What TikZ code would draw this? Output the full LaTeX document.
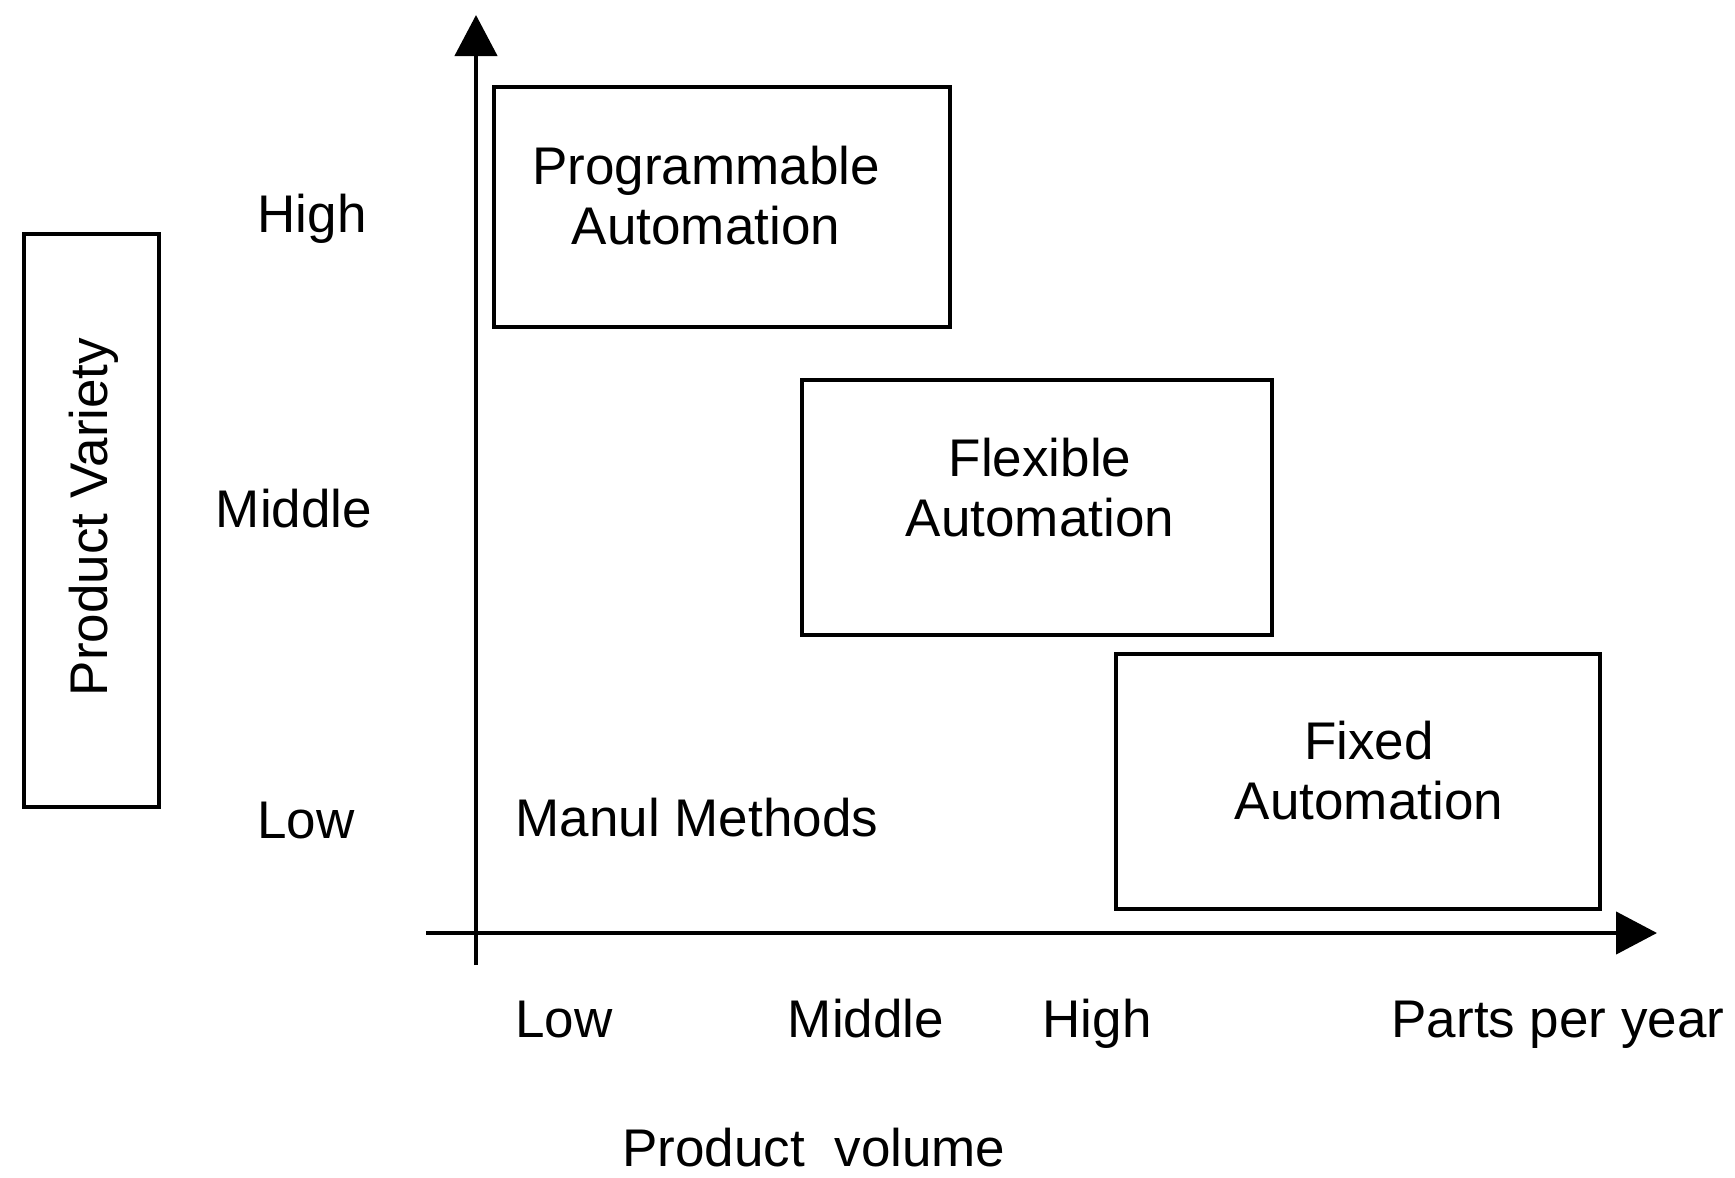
\documentclass[tikz,border=0pt]{standalone}
\usepackage{fontspec}
\setmainfont{Liberation Sans}
\usetikzlibrary{arrows.meta}
\begin{document}
\begin{tikzpicture}[x=1pt, y=-1pt, >={Triangle[length=41pt,width=42pt]},
		every node/.style={font=\fontsize{53}{60}\selectfont},
		zone/.style n args={2}{draw, line width=4pt, minimum width=#1, minimum height=#2, inner sep=0pt},
		axis/.style={line width=4.5pt}]
	\useasboundingbox (0,0) rectangle (1735,1178);
	% axes
	\coordinate (ybot) at (476,965);
	\coordinate (ytop) at (476,15);
	\coordinate (xleft) at (426,933);
	\coordinate (xright) at (1657,933);
	\draw[axis, ->] (ybot) -- (ytop);
	\draw[axis, ->] (xleft) -- (xright);
	% regions
	\node[zone={456}{240}] (prog) at (722,207) {};
	\node[zone={470}{255}] (flex) at (1037,507) {};
	\node[zone={484}{255}] (fixed) at (1358,781) {};
	\node[align=center] (progtext) at (706,196) {Programmable\\Automation};
	\node[align=center] (flextext) at (1040,488) {Flexible\\Automation};
	\node[align=center] (fixedtext) at (1369,771) {Fixed\\Automation};
	\node (manual) at (697,818) {Manul Methods};
	% variety label
	\node[zone={135}{573}] (variety) at (91,520) {};
	\node[rotate=90] (varietytext) at (94,517) {Product Variety};
	\foreach \n/\t/\x/\y in {yhigh/High/312/232, ymid/Middle/294/527, ylow/Low/306/838}
		\node[anchor=base] (\n) at (\x,\y) {\t};
	\foreach \n/\t/\x in {xlow/Low/564, xmid/Middle/866, xhigh/High/1097, xunit/Parts per year/1558}
		\node[anchor=base] (\n) at (\x,1037) {\t};
	\node[anchor=base, inner sep=1pt] (volume) at (814,1166) {Product\ \ volume};
\end{tikzpicture}
\end{document}
